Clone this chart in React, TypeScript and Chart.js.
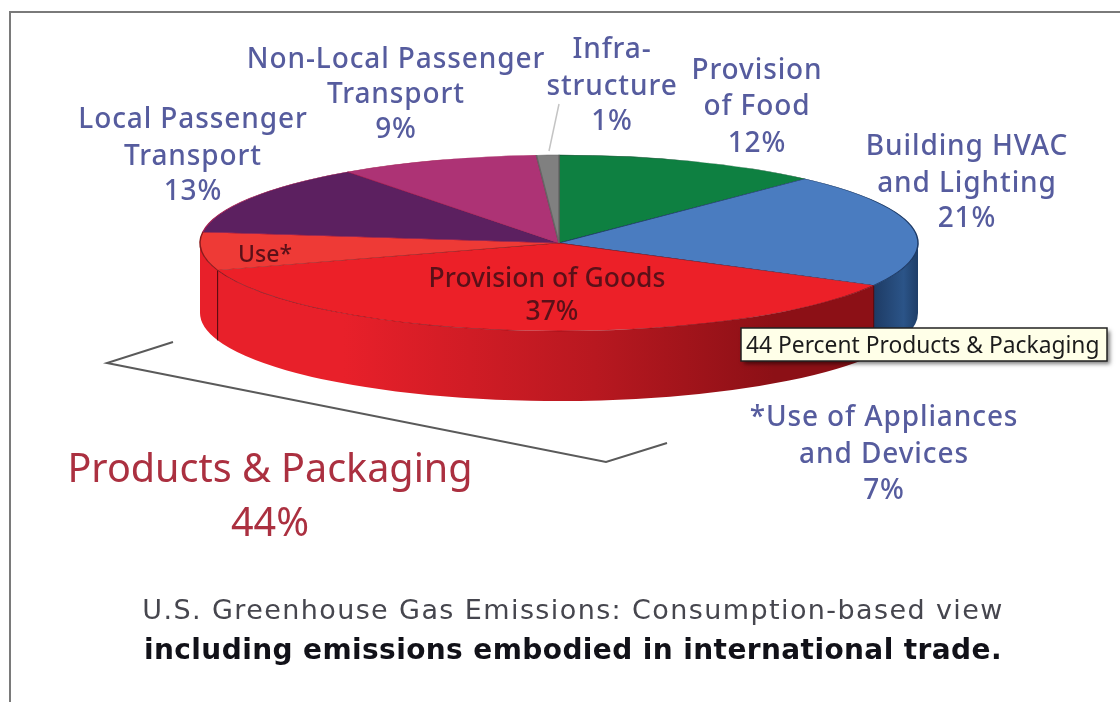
import React, { useEffect, useRef } from "react";
import { Chart, registerables } from "chart.js";

Chart.register(...registerables);

const categories = [
  "Provision of Food",
  "Building HVAC and Lighting",
  "Provision of Goods",
  "Use of Appliances and Devices",
  "Local Passenger Transport",
  "Non-Local Passenger Transport",
  "Infrastructure",
];
const shares = [12, 21, 37, 7, 13, 9, 1];
const faceColors = ["#0e8041", "#4a7cc0", "#ec2028", "#ee3a36", "#5c2060", "#ad3375", "#808080"];
const rimColors = ["#0a4a2a", "#1d3a66", "#7c0f18", "#8a1a1c", "#a01a50", "#a01a50", "#666666"];

const blueLabels = [
  { lines: ["Local Passenger", "Transport", "13%"], x: 193, y: [128, 165, 200] },
  { lines: ["Non-Local Passenger", "Transport", "9%"], x: 396, y: [68, 103, 138] },
  { lines: ["Infra-", "structure", "1%"], x: 612, y: [58, 95, 130] },
  { lines: ["Provision", "of Food", "12%"], x: 757, y: [79, 115, 152] },
  { lines: ["Building HVAC", "and Lighting", "21%"], x: 967, y: [155, 192, 227] },
  { lines: ["*Use of Appliances", "and Devices", "7%"], x: 884, y: [426, 463, 499] },
];
const tooltipText = "44 Percent Products & Packaging";
const bigLabel = ["Products & Packaging", "44%"];
const captionLine = "U.S. Greenhouse Gas Emissions: Consumption-based view";
const captionBold = "including emissions embodied in international trade.";

const SQUASH = 88 / 359;
const DEPTH = 70;

function sideWall(ctx: CanvasRenderingContext2D, x: number, y: number, r: number, a0: number, a1: number) {
  ctx.beginPath();
  ctx.ellipse(x, y, r, r * SQUASH, 0, a0, a1, false);
  ctx.ellipse(x, y + DEPTH, r, r * SQUASH, 0, a1, a0, true);
  ctx.closePath();
}

const piePlugin = {
  id: "pie3d",
  beforeDraw(chart: any) {
    const ctx: CanvasRenderingContext2D = chart.ctx;
    ctx.save();
    ctx.fillStyle = "#ffffff";
    ctx.fillRect(0, 0, chart.width, chart.height);
    ctx.strokeStyle = "#7a7a7a";
    ctx.lineWidth = 2;
    ctx.beginPath();
    ctx.moveTo(10, 704);
    ctx.lineTo(10, 12);
    ctx.lineTo(1122, 12);
    ctx.stroke();
    ctx.restore();
  },
  beforeDatasetsDraw(chart: any) {
    const ctx: CanvasRenderingContext2D = chart.ctx;
    const arcs = chart.getDatasetMeta(0).data;
    const { x, y, outerRadius: r } = arcs[0];
    ctx.save();
    // bracket
    ctx.strokeStyle = "#5a5a5a";
    ctx.lineWidth = 2;
    ctx.beginPath();
    ctx.moveTo(173, 342);
    ctx.lineTo(107, 363);
    ctx.lineTo(606, 462);
    ctx.lineTo(667, 443);
    ctx.stroke();

    const red = ctx.createLinearGradient(x - r, 0, x + r, 0);
    red.addColorStop(0, "#e8202a");
    red.addColorStop(0.2, "#e8202a");
    red.addColorStop(0.55, "#b81820");
    red.addColorStop(0.8, "#8c1016");
    red.addColorStop(1, "#8c1016");
    const blue = ctx.createLinearGradient(x + r - 48, 0, x + r, 0);
    blue.addColorStop(0, "#1c3860");
    blue.addColorStop(0.7, "#2b5488");
    blue.addColorStop(1, "#1e3e68");
    arcs.forEach((arc: any, i: number) => {
      const a0 = Math.max(arc.startAngle, 0);
      const a1 = Math.min(arc.endAngle, Math.PI);
      if (a1 <= a0) return;
      sideWall(ctx, x, y, r, a0, a1);
      ctx.fillStyle = i === 1 ? blue : red;
      ctx.fill();
      [a0, a1].forEach((a) => {
        if (a <= 0 || a >= Math.PI) return;
        const ex = x + r * Math.cos(a);
        const ey = y + r * SQUASH * Math.sin(a);
        ctx.strokeStyle = "#5a0c10";
        ctx.lineWidth = 1;
        ctx.beginPath();
        ctx.moveTo(ex, ey);
        ctx.lineTo(ex, ey + DEPTH);
        ctx.stroke();
      });
    });
    ctx.restore();
    ctx.save();
    ctx.translate(x, y);
    ctx.scale(1, SQUASH);
    ctx.translate(-x, -y);
  },
  afterDatasetsDraw(chart: any) {
    const ctx: CanvasRenderingContext2D = chart.ctx;
    ctx.restore();
    ctx.save();
    ctx.textAlign = "center";
    ctx.textBaseline = "alphabetic";
    const spacing = (v: string) => {
      (ctx as any).letterSpacing = v;
    };

    // leader line for the smallest slice
    ctx.strokeStyle = "#c4c4c4";
    ctx.lineWidth = 1.5;
    ctx.beginPath();
    ctx.moveTo(549, 151);
    ctx.lineTo(559, 104);
    ctx.stroke();

    ctx.font = '500 28px "Noto Sans"';
    spacing("0.9px");
    ctx.fillStyle = "#565c9e";
    blueLabels.forEach((l) => l.lines.forEach((t, i) => ctx.fillText(t, l.x, l.y[i])));

    ctx.fillStyle = "#5a1018";
    spacing("0px");
    ctx.font = '500 23px "Noto Sans"';
    ctx.fillText("Use*", 265, 262);
    ctx.font = '500 26.5px "Noto Sans"';
    ctx.fillText("Provision of Goods", 547, 287);
    ctx.fillText("37%", 552, 320);

    ctx.fillStyle = "#ab3040";
    ctx.font = '39.5px "Noto Sans"';
    ctx.fillText(bigLabel[0], 270, 482);
    ctx.fillText(bigLabel[1], 270, 536);

    ctx.fillStyle = "#46464e";
    ctx.font = '27px "DejaVu Sans"';
    spacing("1.4px");
    ctx.fillText(captionLine, 573, 619);
    ctx.fillStyle = "#111118";
    ctx.font = 'bold 28px "DejaVu Sans"';
    spacing("0.4px");
    ctx.fillText(captionBold, 573, 659);
    spacing("0px");

    // tooltip
    ctx.shadowColor = "rgba(0,0,0,0.5)";
    ctx.shadowBlur = 4;
    ctx.shadowOffsetX = 3;
    ctx.shadowOffsetY = 3;
    ctx.fillStyle = "#ffffe8";
    ctx.fillRect(741, 328, 366, 33);
    ctx.shadowColor = "transparent";
    ctx.strokeStyle = "#222222";
    ctx.lineWidth = 1.5;
    ctx.strokeRect(741, 328, 366, 33);
    ctx.fillStyle = "#1c1c1c";
    ctx.font = '22.8px "Noto Sans"';
    ctx.textAlign = "left";
    ctx.fillText(tooltipText, 746, 353);
    ctx.restore();
  },
};

export default function App() {
  const ref = useRef<HTMLCanvasElement>(null);
  useEffect(() => {
    const chart = new Chart(ref.current as HTMLCanvasElement, {
      type: "pie",
      data: {
        labels: categories,
        datasets: [
          {
            data: shares,
            backgroundColor: faceColors,
            borderColor: rimColors,
            borderWidth: 1.5,
            radius: 359,
            clip: false,
          } as any,
        ],
      },
      options: {
        responsive: false,
        animation: false,
        devicePixelRatio: 1,
        layout: { padding: { left: 0, right: 2, top: 0, bottom: 216 } },
        plugins: { legend: { display: false }, tooltip: { enabled: false } },
      },
      plugins: [piePlugin as any],
    });
    return () => chart.destroy();
  }, []);
  return (
    <canvas
      ref={ref}
      width={1120}
      height={702}
      style={{ position: "absolute", left: 0, top: 0, width: 1120, height: 702, filter: "blur(0.6px)" }}
    />
  );
}
